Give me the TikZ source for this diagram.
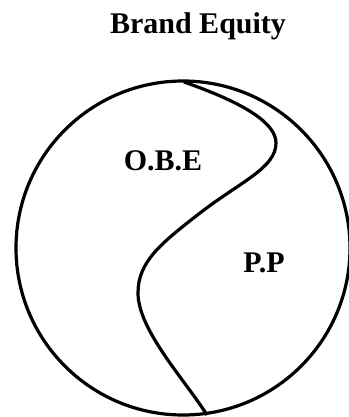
\documentclass[tikz,border=0pt]{standalone}
\usepackage{fontspec}
\setmainfont{Liberation Serif}
\begin{document}
\begin{tikzpicture}[x=1pt,y=-1pt,
  lbl/.style={font=\bfseries\fontsize{30}{32}\selectfont, inner sep=0pt},
  ttl/.style={font=\bfseries\fontsize{30}{32}\selectfont, inner sep=0pt},
  thick line/.style={line width=3.2pt}]
\useasboundingbox (0,0) rectangle (348,417);
\node[ttl] (title) at (198,26) {Brand Equity};
\node[draw, circle, thick line, minimum size=334pt, inner sep=0pt] (circ) at (183,248) {};
\draw[thick line, line join=round]
  (184,82) .. controls (250,105) and (276,125) .. (276,143)
  .. controls (276,168) and (240,182) .. (200,213)
  .. controls (160,244) and (138,262) .. (138,293)
  .. controls (138,330) and (185,380) .. (207,415);
\node[lbl] (obe) at (163,161) {O.B.E};
\node[lbl] (pp) at (264,263) {P.P};
\end{tikzpicture}
\end{document}
